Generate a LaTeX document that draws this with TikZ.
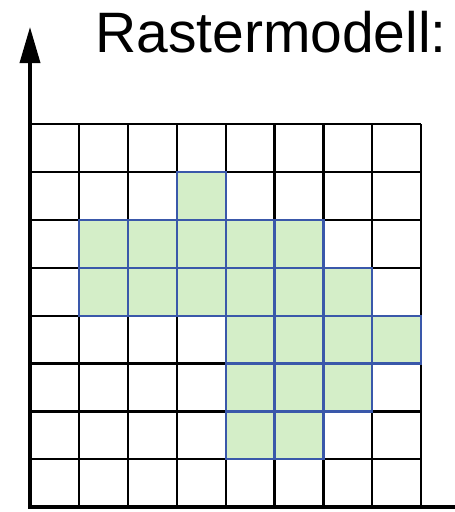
\documentclass[tikz,border=0pt]{standalone}
\usepackage{fontspec}
\setmainfont{Liberation Sans}
\usetikzlibrary{arrows.meta}
\definecolor{cellfill}{RGB}{212,238,200}
\definecolor{cellline}{RGB}{58,88,170}
\tikzset{
  gridline/.style={line width=2.2pt, draw=black},
  cell/.style={fill=cellfill, draw=cellline, line width=2.2pt},
  axis/.style={line width=3.6pt, draw=black},
}
\begin{document}
\begin{tikzpicture}[x=1pt,y=-1pt]
\useasboundingbox (0,0) rectangle (455,512);
% grid
\foreach \i in {0,...,8} {
  \draw[gridline] ({30+\i*48.9},124) -- ({30+\i*48.9},507);
  \draw[gridline] (30,{124+\i*47.9}) -- (421,{124+\i*47.9});
}
% shaded cells: column, row
\foreach \c/\r in {3/1, 1/2,2/2,3/2,4/2,5/2, 1/3,2/3,3/3,4/3,5/3,6/3, 4/4,5/4,6/4,7/4, 4/5,5/5,6/5, 4/6,5/6} {
  \draw[cell] ({30+\c*48.9},{124+\r*47.9}) rectangle ({30+(\c+1)*48.9},{124+(\r+1)*47.9});
}
% axes
\coordinate (origin) at (30,507);
\coordinate (ytip) at (30,27);
\coordinate (xend) at (455,507);
\draw[axis, -{Triangle[length=36pt,width=20pt]}] (origin) -- (ytip);
\draw[axis] ([xshift=-1.8pt]origin) -- (xend);
% title
\node[anchor=base, font=\fontsize{57}{60}\selectfont, inner sep=0pt] (title) at (271,52) {Rastermodell:};
\end{tikzpicture}
\end{document}
